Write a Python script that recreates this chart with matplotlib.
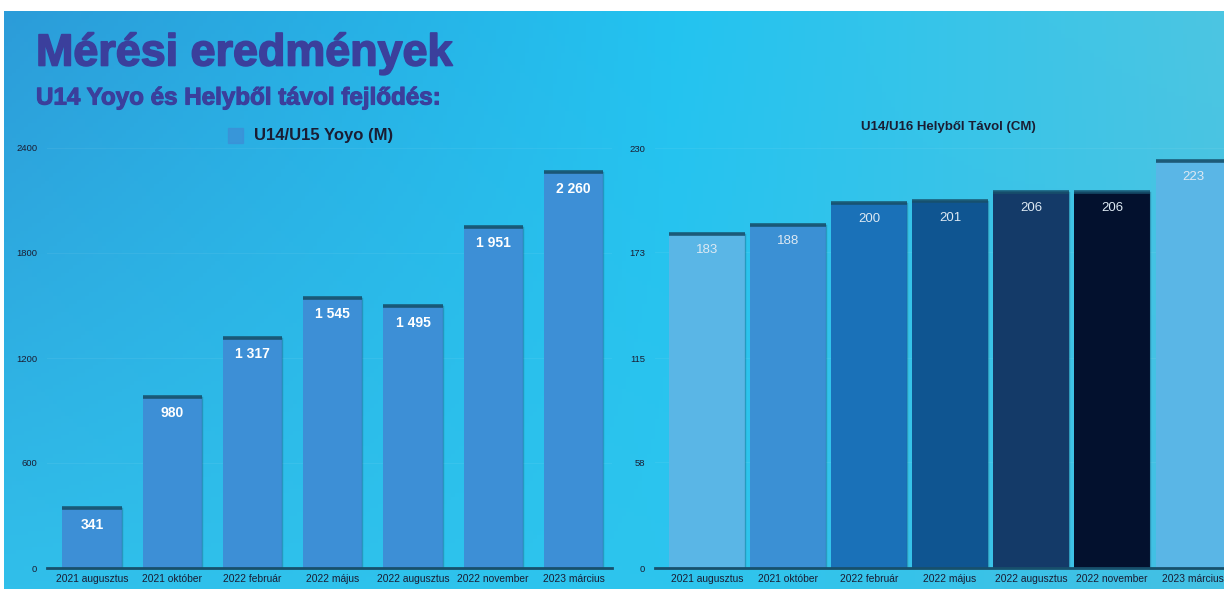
import numpy as np
import matplotlib.pyplot as plt
import matplotlib.patheffects as pe
from matplotlib.colors import to_rgb

# adatok
honapok = ["2021 augusztus", "2021 október", "2022 február", "2022 május",
           "2022 augusztus", "2022 november", "2023 március"]
yoyo = [341, 980, 1317, 1545, 1495, 1951, 2260]
tavol = [183, 188, 200, 201, 206, 206, 223]

yoyo_ticks = [0, 600, 1200, 1800, 2400]
tavol_ticks = [0, 58, 115, 173, 230]

yoyo_szin = "#3d8fd6"
tavol_szinek = ["#5ab6e6", "#3b90d4", "#1a71b8", "#0f5591", "#143a68", "#03112e", "#5ab6e6"]
cim_szin = "#3b3f9c"
szoveg_szin = "#1a1d33"
el_szin = "#17506c"

W, H = 1224, 589
fig = plt.figure(figsize=(W / 100, H / 100), dpi=100)
fig.patch.set_facecolor("white")

# hatter szinatmenet (bal felul kekebb, kozepen cian, jobbra vilagosabb)
bg = fig.add_axes([4 / W, 0, 1 - 4 / W, (H - 11) / H])
bg.axis("off")
nx, ny = 300, 150
xs = np.linspace(0, 1, nx)
ys = np.linspace(0, 1, ny)[:, None]
felso = [to_rgb("#2c9cd9"), to_rgb("#23c3f0"), to_rgb("#4cc6e2")]
also = [to_rgb("#31bfea"), to_rgb("#2dc5ee"), to_rgb("#44c0e3")]
pont = [0.0, 0.55, 1.0]
img = np.zeros((ny, nx, 3))
for c in range(3):
    f = np.interp(xs, pont, [p[c] for p in felso])
    a = np.interp(xs, pont, [p[c] for p in also])
    img[:, :, c] = f[None, :] * (1 - ys) + a[None, :] * ys
bg.imshow(img, aspect="auto", extent=[0, 1, 0, 1], origin="upper")
bg.set_xlim(0, 1)
bg.set_ylim(0, 1)

fig.text(36 / W, 1 - 54 / H, "Mérési eredmények", fontsize=32.3, fontweight="bold",
         family="Liberation Sans", color=cim_szin, va="center", ha="left",
         path_effects=[pe.withStroke(linewidth=1.2, foreground=cim_szin)])
fig.text(36 / W, 1 - 98 / H, "U14 Yoyo és Helyből távol fejlődés:", fontsize=17.4,
         fontweight="bold", family="Liberation Sans", color=cim_szin, va="center", ha="left",
         path_effects=[pe.withStroke(linewidth=0.8, foreground=cim_szin)])


def rajzol(ax, ertekek, szinek, szel, ticks, ylim, xlim, cimke_meret, cimke_szin, cimke_suly, dy):
    x = np.arange(len(ertekek))
    ax.set_facecolor("none")
    ax.bar(x, ertekek, width=szel, color=szinek, zorder=2)
    # sotet felso szegely a oszlopokon
    for xi, v in zip(x, ertekek):
        ax.plot([xi - szel / 2, xi + szel / 2], [v, v], color=el_szin, lw=2.6,
                solid_capstyle="butt", zorder=3, alpha=0.9)
        ax.plot([xi + szel / 2, xi + szel / 2], [0, v], color=el_szin, lw=1.0,
                zorder=3, alpha=0.35)
        ax.annotate(f"{v:,}".replace(",", " "), (xi, v), xytext=(0, -dy),
                    textcoords="offset points", ha="center", va="center",
                    fontsize=cimke_meret, color=cimke_szin, fontweight=cimke_suly,
                    family="Liberation Sans", zorder=4)
    ax.set_xlim(*xlim)
    ax.set_ylim(*ylim)
    ax.set_yticks(ticks)
    ax.set_yticklabels([str(t) for t in ticks])
    ax.set_xticks(x)
    ax.set_xticklabels(honapok)
    ax.grid(axis="y", color="white", alpha=0.06, lw=0.8, zorder=0)
    for s in ["top", "right", "left"]:
        ax.spines[s].set_visible(False)
    ax.spines["bottom"].set_color(el_szin)
    ax.spines["bottom"].set_linewidth(2)
    ax.spines["bottom"].set_zorder(5)
    ax.tick_params(axis="y", length=0, labelsize=6.8, colors=szoveg_szin, pad=7)
    ax.tick_params(axis="x", length=0, labelsize=7.4, colors=szoveg_szin, pad=4)
    for t in ax.get_xticklabels() + ax.get_yticklabels():
        t.set_family("Liberation Sans")


bal = fig.add_axes([47 / W, 21 / H, 565 / W, 420 / H])
rajzol(bal, yoyo, yoyo_szin, 0.74, yoyo_ticks, (0, 2400), (-0.56, 6.48),
       10, "white", "bold", 12)

jobb = fig.add_axes([655 / W, 21 / H, 569 / W, 420 / H])
rajzol(jobb, tavol, tavol_szinek, 0.93, tavol_ticks, (0, 230), (-0.64, 6.38),
       9.5, "#dde9f3", "normal", 12)

# jelmagyarazat a bal diagramhoz
fig.patches.append(plt.Rectangle((228 / W, 1 - 143 / H), 15 / W, 15 / H,
                                 transform=fig.transFigure, color=yoyo_szin, alpha=0.75))
fig.text(254 / W, 1 - 135 / H, "U14/U15 Yoyo (M)", fontsize=12, fontweight="bold",
         family="Liberation Sans", color=szoveg_szin, va="center", ha="left")
fig.text(948 / W, 1 - 127 / H, "U14/U16 Helyből Távol (CM)", fontsize=9.5,
         fontweight="bold", family="Liberation Sans", color=szoveg_szin,
         va="center", ha="center")

fig.savefig("out.png", dpi=100)
